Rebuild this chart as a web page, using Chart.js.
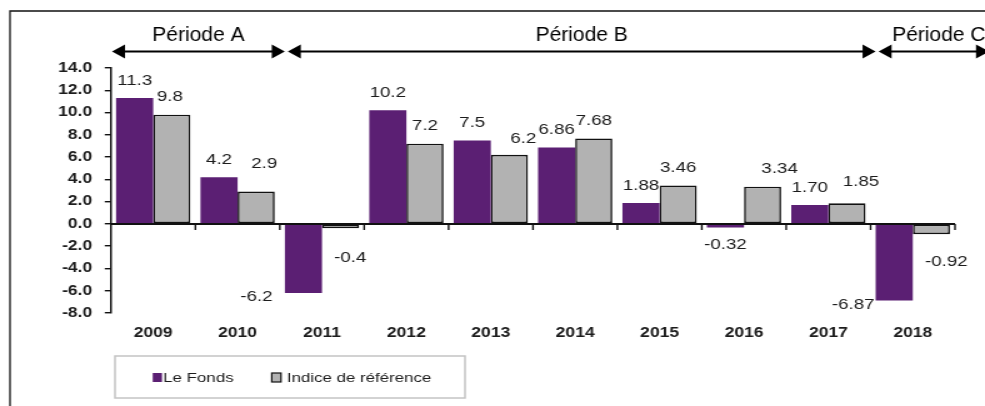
<!DOCTYPE html>
<html>
<head>
<meta charset="utf-8">
<script src="https://cdn.jsdelivr.net/npm/chart.js@4.4.1/dist/chart.umd.min.js"></script>
<style>
  html, body { margin: 0; padding: 0; background: #fff; overflow: hidden; }
</style>
</head>
<body>
<canvas id="perfChart" width="788" height="406" style="display:block;width:985px;height:406px"></canvas>
<script>
// * data
const years = ["2009", "2010", "2011", "2012", "2013", "2014", "2015", "2016", "2017", "2018"];
const fonds = [11.3, 4.2, -6.2, 10.2, 7.5, 6.86, 1.88, -0.32, 1.70, -6.87];
const indice = [9.8, 2.9, -0.4, 7.2, 6.2, 7.68, 3.46, 3.34, 1.85, -0.92];
const labelDecimals = [1, 1, 1, 1, 1, 2, 2, 2, 2, 2];
const yMin = -8;
const yMax = 14;
const yStep = 2;
const periodNames = ["Période A", "Période B", "Période C"];
const periodFrom = [0, 2, 9];
const periodTo = [2, 9, 10];

// ? the source picture is stretched sideways, so the canvas is too
const STRETCH = 985 / 788;
const INK = "#1c1c1c";
const PURPLE = "#5b1f73";
const GREY = "#b2b2b2";

// label nudges in screen px (dx, dy), like the hand-moved labels of the original
const fondsNudge = [[0, 0], [0, 0], [-47, -13.5], [0, 0], [0, 0], [0, 0], [0, 0], [0, 0], [0, 0], [-41, -13]];
const indiceNudge = [[-2, 0], [8, -10.5], [9.5, 12], [0, 0], [14, 1.5], [0, 0], [0, 0], [17, 0], [14, -3.5], [15, 10]];

Chart.defaults.font.family = "'Liberation Sans', Arial, sans-serif";

const extras = {
  id: "extras",
  beforeDraw(chart) {
    const ctx = chart.ctx;
    ctx.save();
    ctx.fillStyle = "#fff";
    ctx.fillRect(0, 0, chart.width, chart.height);
    ctx.restore();
  },
  afterDatasetsDraw(chart) {
    const ctx = chart.ctx;
    const { left, right } = chart.chartArea;
    const y0 = chart.scales.y.getPixelForValue(0);
    const step = (right - left) / years.length;

    // zero line + small ticks under it
    ctx.save();
    ctx.strokeStyle = "#111";
    ctx.lineWidth = 2;
    ctx.beginPath();
    ctx.moveTo(left, y0);
    ctx.lineTo(right, y0);
    ctx.stroke();
    ctx.lineWidth = 1.4;
    ctx.beginPath();
    for (let i = 1; i <= years.length; i++) {
      ctx.moveTo(left + step * i, y0);
      ctx.lineTo(left + step * i, y0 + 6);
    }
    ctx.stroke();

    // value labels
    ctx.font = "15px 'Liberation Sans', Arial, sans-serif";
    ctx.fillStyle = INK;
    ctx.textAlign = "center";
    ctx.textBaseline = "middle";
    const nudges = [fondsNudge, indiceNudge];
    chart.data.datasets.forEach((ds, d) => {
      chart.getDatasetMeta(d).data.forEach((bar, i) => {
        const v = ds.data[i];
        const n = nudges[d][i];
        const tx = bar.x + n[0] / STRETCH;
        const ty = bar.y + (v < 0 ? 17.5 : -17.5) + n[1];
        ctx.fillText(v.toFixed(labelDecimals[i]), tx, ty);
      });
    });
    ctx.restore();
  },
  afterDraw(chart) {
    const ctx = chart.ctx;
    const { left, right } = chart.chartArea;
    const step = (right - left) / years.length;

    // legend box
    ctx.save();
    ctx.strokeStyle = "#c4c4c4";
    ctx.lineWidth = 1.5;
    ctx.strokeRect(92, 356, 280, 42);
    const items = [
      { x: 122.2, tx: 130.6 },
      { x: 217.4, tx: 229.4 },
    ];
    ctx.font = "13.5px 'Liberation Sans', Arial, sans-serif";
    ctx.textBaseline = "middle";
    ctx.textAlign = "left";
    chart.data.datasets.forEach((ds, d) => {
      const it = items[d];
      ctx.fillStyle = ds.backgroundColor;
      ctx.fillRect(it.x, 373, 7.4, 9);
      if (ds.borderWidth) {
        ctx.strokeStyle = "#111";
        ctx.lineWidth = 1.2;
        ctx.strokeRect(it.x, 373, 7.4, 9);
      }
      ctx.fillStyle = INK;
      ctx.fillText(ds.label, it.tx, 378);
    });
    ctx.restore();

    // frame and period arrows, drawn in screen px
    ctx.save();
    ctx.scale(1 / STRETCH, 1);
    ctx.strokeStyle = "#111";
    ctx.lineWidth = 1.6;
    ctx.beginPath();
    ctx.moveTo(10, chart.height + 2);
    ctx.lineTo(10, 11);
    ctx.lineTo(chart.width * STRETCH + 2, 11);
    ctx.stroke();

    const bound = (k) => (left + step * k) * STRETCH;
    const ay = 51.5;
    ctx.fillStyle = "#000";
    ctx.font = "21px 'Liberation Sans', Arial, sans-serif";
    ctx.textAlign = "center";
    ctx.textBaseline = "middle";
    periodNames.forEach((name, p) => {
      const x1 = bound(periodFrom[p]) + (periodFrom[p] === 0 ? 1 : 8);
      let x2 = bound(periodTo[p]) + 5;
      if (p === periodNames.length - 1) x2 = chart.width * STRETCH + 4;
      ctx.strokeStyle = "#000";
      ctx.lineWidth = 2;
      ctx.beginPath();
      ctx.moveTo(x1 + 10, ay);
      ctx.lineTo(x2 - 10, ay);
      ctx.stroke();
      ctx.beginPath();
      ctx.moveTo(x1, ay);
      ctx.lineTo(x1 + 13, ay - 7);
      ctx.lineTo(x1 + 13, ay + 7);
      ctx.closePath();
      ctx.moveTo(x2, ay);
      ctx.lineTo(x2 - 13, ay - 7);
      ctx.lineTo(x2 - 13, ay + 7);
      ctx.closePath();
      ctx.fill();
      ctx.fillText(name, (x1 + x2) / 2 + (p === periodNames.length - 1 ? 5 : 0), 35);
    });
    ctx.restore();
  },
};

const perfCanvas = document.getElementById("perfChart").getContext("2d");
const perfChart = new Chart(perfCanvas, {
  type: "bar",
  data: {
    labels: years,
    datasets: [
      {
        label: "Le Fonds",
        data: fonds,
        backgroundColor: PURPLE,
        borderWidth: 0,
      },
      {
        label: "Indice de référence",
        data: indice,
        backgroundColor: GREY,
        borderColor: "#111",
        borderWidth: 1.6,
        borderSkipped: false,
      },
    ],
  },
  options: {
    responsive: false,
    devicePixelRatio: 1,
    animation: false,
    datasets: {
      bar: { categoryPercentage: 0.88, barPercentage: 1 },
    },
    layout: { padding: { left: 0, right: 24, top: 68, bottom: 0 } },
    plugins: {
      legend: { display: false },
      tooltip: { enabled: false },
    },
    scales: {
      x: {
        grid: { display: false, drawTicks: false },
        border: { display: false },
        ticks: {
          color: INK,
          font: { size: 14, weight: "bold" },
          padding: 12,
          maxRotation: 0,
          autoSkip: false,
        },
        afterFit(scale) {
          scale.height = 93;
        },
      },
      y: {
        min: yMin,
        max: yMax,
        ticks: {
          stepSize: yStep,
          color: INK,
          font: { size: 14, weight: "bold" },
          padding: 10,
          callback: (v) => v.toFixed(1),
        },
        grid: {
          drawOnChartArea: false,
          drawTicks: true,
          tickLength: 5,
          color: "#111",
          lineWidth: 1.4,
        },
        border: { display: true, color: "#111", width: 1.5 },
        afterFit(scale) {
          scale.width = 88.8;
        },
      },
    },
  },
  plugins: [extras],
});
</script>
</body>
</html>
